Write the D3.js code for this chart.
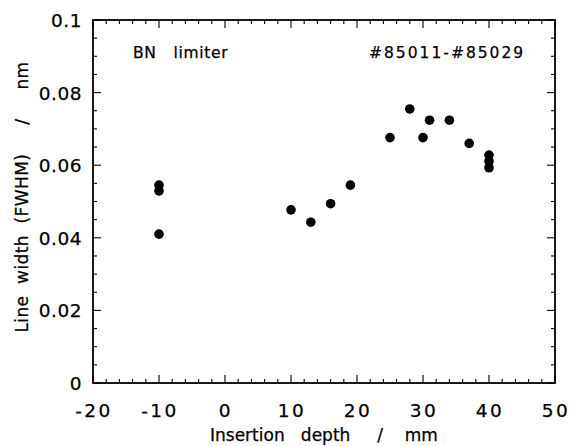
<!DOCTYPE html>
<html>
<head>
<meta charset="utf-8">
<script src="https://cdn.jsdelivr.net/npm/d3@7"></script>
<style>
  body { margin: 0; background: #fff; }
  text { font-family: "DejaVu Sans", Verdana, sans-serif; fill: #000; stroke: #000; stroke-width: 0.25; white-space: pre; }
</style>
</head>
<body>
<div id="chart"></div>
<script>
// Insertion depth (mm) and line width FWHM (nm)
const depth = [-10, -10, -10, 10, 13, 16, 19, 25, 28, 30, 31, 34, 37, 40, 40, 40];
const width_nm = [0.0545, 0.0529, 0.0410, 0.0477, 0.0443, 0.0494, 0.0545, 0.0676, 0.0755, 0.0676, 0.0724, 0.0724, 0.0660, 0.0628, 0.0611, 0.0593];
const xTicks = [-20, -10, 0, 10, 20, 30, 40, 50];
const yTicks = [0, 0.02, 0.04, 0.06, 0.08, 0.1];
const yTickLabels = ["0", "0.02", "0.04", "0.06", "0.08", "0.1"];

const W = 570, H = 446;
const margin = { top: 20, right: 15, bottom: 63, left: 93 };
const width = W - margin.left - margin.right;
const height = H - margin.top - margin.bottom;

const svg = d3.select("#chart")
  .append("svg")
  .attr("width", W)
  .attr("height", H);

const g = svg.append("g")
  .attr("transform", `translate(${margin.left},${margin.top})`);

const x = d3.scaleLinear().domain([-20, 50]).range([0, width]);
const y = d3.scaleLinear().domain([0, 0.1]).range([height, 0]);

const xMinor = d3.range(-20, 50.01, 2);
const yMinor = d3.range(0, 0.1001, 0.005);

// Frame
g.append("rect")
  .attr("width", width)
  .attr("height", height)
  .attr("fill", "none")
  .attr("stroke", "#000")
  .attr("stroke-width", 1.8);

// Ticks on all four sides, longer at the labelled values
function isMajorX(v) { return Math.abs(v % 10) < 1e-9; }
function isMajorY(v) { return Math.abs(Math.round(v / 0.02) * 0.02 - v) < 1e-9; }

const ticks = g.append("g").attr("stroke", "#000").attr("stroke-width", 1.1);
xMinor.forEach(v => {
  const len = isMajorX(v) ? 8 : 4;
  ticks.append("line").attr("x1", x(v)).attr("x2", x(v)).attr("y1", height).attr("y2", height - len);
  ticks.append("line").attr("x1", x(v)).attr("x2", x(v)).attr("y1", 0).attr("y2", len);
});
yMinor.forEach(v => {
  const len = isMajorY(v) ? 8 : 4;
  ticks.append("line").attr("y1", y(v)).attr("y2", y(v)).attr("x1", 0).attr("x2", len);
  ticks.append("line").attr("y1", y(v)).attr("y2", y(v)).attr("x1", width).attr("x2", width - len);
});

// Tick labels
g.append("g").selectAll("text")
  .data(xTicks)
  .enter()
  .append("text")
    .attr("x", d => x(d) + 1)
    .attr("y", height + 34)
    .attr("text-anchor", "middle")
    .attr("font-size", 18.5)
    .attr("letter-spacing", 2.5)
    .text(d => String(d));

g.append("g").selectAll("text")
  .data(yTicks)
  .enter()
  .append("text")
    .attr("x", -11)
    .attr("y", d => y(d) + 7)
    .attr("text-anchor", "end")
    .attr("font-size", 18.5)
    .attr("letter-spacing", 0.5)
    .text((d, i) => yTickLabels[i]);

// Axis labels
g.append("text")
  .attr("x", 117)
  .attr("y", height + 58)
  .attr("font-size", 17)
  .text("Insertion   depth     /    mm");

g.append("text")
  .attr("transform", "rotate(-90)")
  .attr("x", -177)
  .attr("y", -65)
  .attr("text-anchor", "middle")
  .attr("font-size", 17)
  .attr("letter-spacing", 0.4)
  .text("Line  width  (FWHM)     /     nm");

// Annotations
g.append("text")
  .attr("x", 40)
  .attr("y", 38)
  .attr("font-size", 15.5)
  .attr("letter-spacing", 0.7)
  .text("BN   limiter");

g.append("text")
  .attr("x", 276)
  .attr("y", 38)
  .attr("font-size", 15.5)
  .attr("letter-spacing", 2)
  .text("#85011-#85029");

// Data points
g.append("g").selectAll("circle")
  .data(depth.map((d, i) => ({ x: d, y: width_nm[i] })))
  .enter()
  .append("circle")
    .attr("cx", d => x(d.x))
    .attr("cy", d => y(d.y))
    .attr("r", 4.8)
    .attr("fill", "#000");
</script>
</body>
</html>
